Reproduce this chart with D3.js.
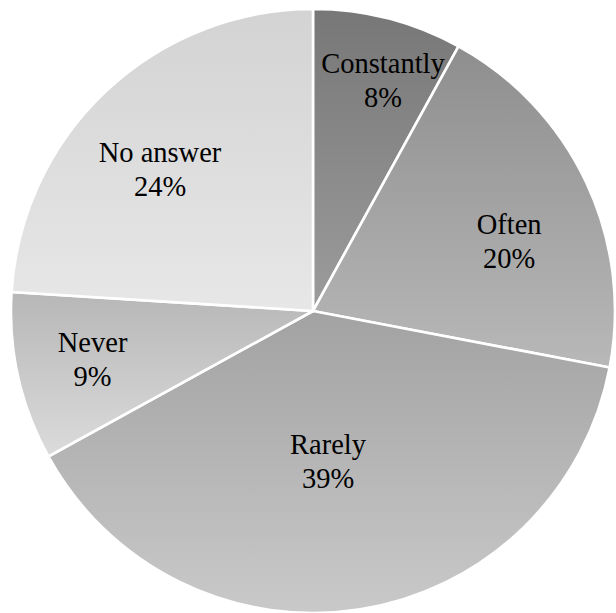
<!DOCTYPE html>
<html>
<head>
<meta charset="utf-8">
<script src="https://cdn.jsdelivr.net/npm/d3@7"></script>
<style>
  html, body { margin: 0; padding: 0; background: #fff; }
  svg { display: block; }
</style>
</head>
<body>
<script>
// Survey answers, clockwise from 12 o'clock
const categories = ["Constantly", "Often", "Rarely", "Never", "No answer"];
const percents   = [8, 20, 39, 9, 24];

// Vertical gradient shades for each slice (top, bottom)
const shadeTop    = ["#777777", "#8e8e8e", "#a2a2a2", "#b7b7b7", "#d3d3d3"];
const shadeBottom = ["#9c9c9c", "#b8b8b8", "#c9c9c9", "#dbdbdb", "#e7e7e7"];

// Text placement inside each wedge: fraction of radius, angular nudge (deg)
const textRadius = [0.809, 0.693, 0.489, 0.745, 0.698];
const textNudge  = [2.25, 4.77, 3.17, 1.07, -3.34];

const cx = 313, cy = 311, radius = 302;

const svg = d3.select("body").append("svg")
  .attr("width", 616)
  .attr("height", 613);
const defs = svg.append("defs");

const data = categories.map((c, i) => ({ name: c, value: percents[i], i }));

data.forEach(d => {
  const lg = defs.append("linearGradient")
    .attr("id", "shade" + d.i)
    .attr("x1", 0).attr("y1", 0).attr("x2", 0).attr("y2", 1);
  lg.append("stop").attr("offset", "0%").attr("stop-color", shadeTop[d.i]);
  lg.append("stop").attr("offset", "100%").attr("stop-color", shadeBottom[d.i]);
});

const pie = d3.pie().value(d => d.value).sort(null);
const wedges = pie(data);
const arc = d3.arc().innerRadius(0).outerRadius(radius);

const root = svg.append("g").attr("transform", `translate(${cx},${cy})`);

root.append("g").selectAll("path")
  .data(wedges)
  .join("path")
  .attr("d", arc)
  .attr("fill", d => `url(#shade${d.data.i})`)
  .attr("stroke", "#ffffff")
  .attr("stroke-width", 2.6)
  .attr("stroke-linejoin", "miter");

const fontSize = 28.5, lineGap = 34;

function textPos(d) {
  const mid = (d.startAngle + d.endAngle) / 2 + textNudge[d.data.i] * Math.PI / 180;
  const r = radius * textRadius[d.data.i];
  return [r * Math.sin(mid), -r * Math.cos(mid)];
}

const words = root.append("g");

wedges.forEach(d => {
  const [x, y] = textPos(d);
  words.append("text")
    .attr("x", x).attr("y", y - 4)
    .attr("text-anchor", "middle")
    .attr("font-size", fontSize)
    .style("font-family", "'Liberation Serif'")
    .text(d.data.name);
  words.append("text")
    .attr("x", x).attr("y", y - 4 + lineGap)
    .attr("text-anchor", "middle")
    .attr("font-size", fontSize)
    .style("font-family", "'Liberation Serif'")
    .text(d.data.value + "%");
});
</script>
</body>
</html>
